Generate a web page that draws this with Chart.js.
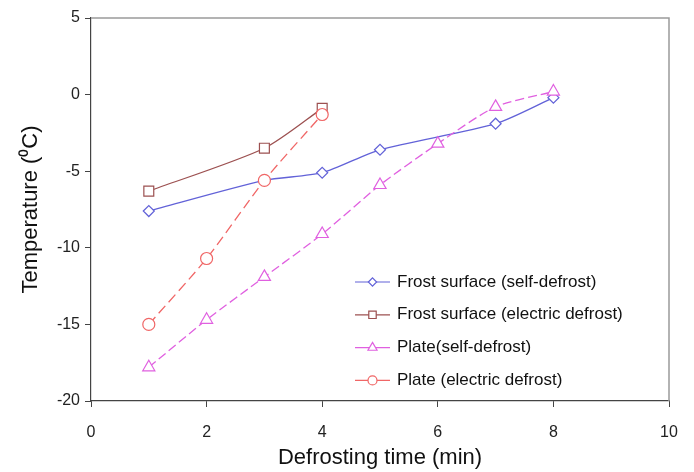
<!DOCTYPE html>
<html>
<head>
<meta charset="utf-8">
<script src="https://cdn.jsdelivr.net/npm/chart.js@4.4.0/dist/chart.umd.min.js"></script>
<style>
body{margin:0;background:#fff;}
#wrap{width:694px;height:472px;}
</style>
</head>
<body>
<div id="wrap"><canvas id="graph1" width="694" height="472"></canvas></div>
<script>
// defrosting time (min) vs temperature (C) for each run
var seriesNames = ["Frost surface (self-defrost)", "Frost surface (electric defrost)", "Plate(self-defrost)", "Plate (electric defrost)"];

var frostSelfTime = [1, 3, 4, 5, 7, 8];
var frostSelfTemp = [-7.6, -5.6, -5.1, -3.6, -1.9, -0.2];

var frostElecTime = [1, 3, 4];
var frostElecTemp = [-6.3, -3.5, -0.9];

var plateSelfTime = [1, 2, 3, 4, 5, 6, 7, 8];
var plateSelfTemp = [-17.8, -14.7, -11.9, -9.1, -5.9, -3.2, -0.8, 0.2];

var plateElecTime = [1, 2, 3, 4];
var plateElecTemp = [-15.0, -10.7, -5.6, -1.3];

var xTicks = [0, 2, 4, 6, 8, 10];
var yTicks = [5, 0, -5, -10, -15, -20];

var FONT = "'Liberation Sans', Arial, sans-serif";

function pts(xs, ys){
    var out = [];
    for (var i = 0; i < xs.length; i++){ out.push({x: xs[i], y: ys[i]}) }
    return out;
}

function series(label, xs, ys, color, style, radius, dash, order){
    return {
        label: label,
        data: pts(xs, ys),
        borderColor: color,
        borderWidth: 1.3,
        borderDash: dash,
        pointStyle: style,
        pointRadius: radius,
        pointBorderColor: color,
        pointBackgroundColor: '#fff',
        pointBorderWidth: 1.2,
        tension: 0.25,
        fill: false,
        order: order
    };
}

var datasets = [
    series(seriesNames[0], frostSelfTime, frostSelfTemp, '#6262d8', 'rectRot', 5.5, [], 3),
    series(seriesNames[1], frostElecTime, frostElecTemp, '#9c5050', 'rect', 7, [], 2),
    series(seriesNames[2], plateSelfTime, plateSelfTemp, '#e060e0', 'triangle', 7, [9, 4], 1),
    series(seriesNames[3], plateElecTime, plateElecTemp, '#f06666', 'circle', 6, [10, 5], 0)
];

// grey frame on top and right of the plot
var frame = {
    id: 'frame',
    beforeDatasetsDraw: function(chart){
        var a = chart.chartArea, ctx = chart.ctx;
        ctx.save();
        ctx.strokeStyle = '#9a9a9a';
        ctx.lineWidth = 1.5;
        ctx.beginPath();
        ctx.moveTo(a.left, a.top);
        ctx.lineTo(a.right, a.top);
        ctx.lineTo(a.right, a.bottom);
        ctx.stroke();
        ctx.restore();
    }
};

// legend drawn inside the plot area, lower right
var legendBox = {
    id: 'legendBox',
    afterDatasetsDraw: function(chart){
        var ctx = chart.ctx;
        var ds = chart.data.datasets;
        ctx.save();
        for (var i = 0; i < ds.length; i++){
            var y = 282 + i * 32.8;
            ctx.setLineDash([]);
            ctx.strokeStyle = ds[i].borderColor;
            ctx.lineWidth = 1.2;
            ctx.beginPath();
            ctx.moveTo(355, y);
            ctx.lineTo(390, y);
            ctx.stroke();
            ctx.fillStyle = '#fff';
            Chart.helpers.drawPoint(ctx, {
                pointStyle: ds[i].pointStyle,
                radius: ds[i].pointRadius * 0.75,
                rotation: 0,
                borderWidth: 1.1
            }, 372.5, y);
            ctx.fillStyle = '#111';
            ctx.font = '17px ' + FONT;
            ctx.textBaseline = 'middle';
            ctx.textAlign = 'left';
            ctx.fillText(ds[i].label, 397, y);
        }
        ctx.restore();
    }
};

var ctx1 = document.getElementById('graph1');

var config = {
    type: 'line',
    data: {datasets: datasets},
    options: {
        responsive: false,
        animation: false,
        layout: {padding: {top: 18, right: 25, left: 0, bottom: 0}},
        plugins: {legend: {display: false}, tooltip: {enabled: false}},
        scales: {
            x: {
                type: 'linear',
                min: 0,
                max: 10,
                afterBuildTicks: function(s){ s.ticks = xTicks.map(function(v){ return {value: v} }) },
                afterFit: function(s){ s.height = 71 },
                border: {display: true, color: '#444', width: 1.2},
                grid: {drawOnChartArea: false, drawTicks: true, tickLength: 6, color: '#444'},
                ticks: {color: '#222', font: {family: FONT, size: 16}, padding: 16, maxRotation: 0},
                title: {display: true, text: 'Defrosting time (min)', color: '#111',
                        font: {family: FONT, size: 22}, padding: {top: 0, bottom: 1}}
            },
            y: {
                type: 'linear',
                min: -20,
                max: 5,
                afterBuildTicks: function(s){ s.ticks = yTicks.map(function(v){ return {value: v} }) },
                afterFit: function(s){ s.width = 91 },
                border: {display: true, color: '#444', width: 1.2},
                grid: {drawOnChartArea: false, drawTicks: true, tickLength: 6, color: '#444'},
                ticks: {color: '#222', font: {family: FONT, size: 16}, padding: 5},
                title: {display: true, text: 'Temperature (\u2070C)', color: '#111',
                        font: {family: FONT, size: 22}, padding: {top: 18, bottom: 0}}
            }
        }
    },
    plugins: [frame, legendBox]
};

var graph1 = new Chart(ctx1, config);
</script>
</body>
</html>
